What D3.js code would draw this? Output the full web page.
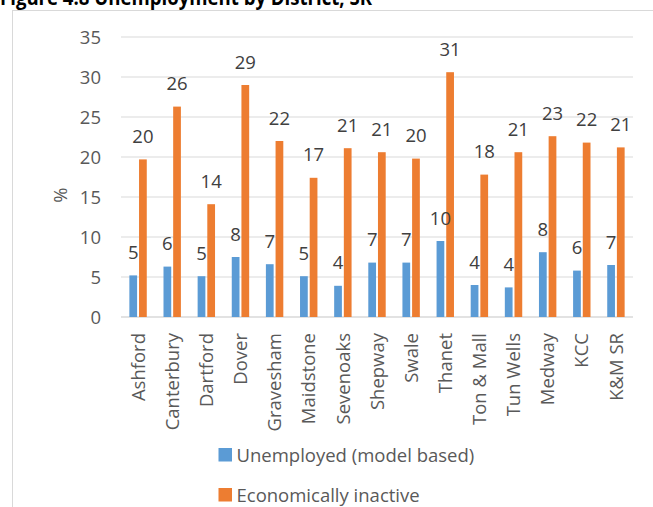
<!DOCTYPE html>
<html>
<head>
<meta charset="utf-8">
<script src="https://cdn.jsdelivr.net/npm/d3@7"></script>
<style>
  html, body { margin: 0; padding: 0; background: #fff; }
  svg { display: block; }
  text { font-family: "Open Sans", "DejaVu Sans", sans-serif; }
</style>
</head>
<body>
<svg id="chart" width="653" height="507"></svg>
<script>
// Unemployment and economic inactivity rates by district (%)
const districts = ["Ashford", "Canterbury", "Dartford", "Dover", "Gravesham", "Maidstone",
  "Sevenoaks", "Shepway", "Swale", "Thanet", "Ton & Mall", "Tun Wells", "Medway", "KCC", "K&M SR"];
const unemployed = [5.2, 6.3, 5.1, 7.5, 6.6, 5.1, 3.9, 6.8, 6.8, 9.5, 4.0, 3.7, 8.1, 5.8, 6.5];
const inactive = [19.7, 26.3, 14.1, 29.0, 22.0, 17.4, 21.1, 20.6, 19.8, 30.6, 17.8, 20.6, 22.6, 21.8, 21.2];
const seriesNames = ["Unemployed (model based)", "Economically inactive"];
const seriesColors = ["#5B9BD5", "#ED7D31"];
const yTicks = [0, 5, 10, 15, 20, 25, 30, 35];
const titleText = "Figure 4.8 Unemployment by District, SR";

const svg = d3.select("#chart");
const fontSize = 18.5;

// Chart area frame
svg.append("rect")
  .attr("x", 12.5).attr("y", 10.5)
  .attr("width", 700).attr("height", 600)
  .attr("fill", "none").attr("stroke", "#d9d9d9").attr("stroke-width", 1);

// Heading, sitting above the frame
svg.append("text")
  .attr("x", 0).attr("y", 5)
  .attr("font-weight", "bold")
  .attr("font-size", 21)
  .attr("fill", "#000")
  .attr("textLength", 372)
  .attr("lengthAdjust", "spacingAndGlyphs")
  .text(titleText);

const plot = { left: 121, right: 633, top: 37, bottom: 317 };

const y = d3.scaleLinear().domain([0, 35]).range([plot.bottom, plot.top]);
const x0 = d3.scaleBand().domain(districts).range([plot.left, plot.right])
  .paddingInner(0.49).paddingOuter(0.245);
const x1 = d3.scaleBand().domain([0, 1]).range([0, x0.bandwidth()]).paddingInner(0.2);

// Gridlines
svg.append("g").selectAll("line")
  .data(yTicks)
  .join("line")
  .attr("x1", plot.left).attr("x2", plot.right)
  .attr("y1", d => y(d)).attr("y2", d => y(d))
  .attr("stroke", "#d9d9d9")
  .attr("stroke-width", d => d === 0 ? 1.5 : 1);

// Y axis tick labels
svg.append("g").selectAll("text")
  .data(yTicks)
  .join("text")
  .attr("x", 101).attr("y", d => y(d))
  .attr("dy", "0.36em")
  .attr("text-anchor", "end")
  .attr("font-size", fontSize)
  .attr("fill", "#595959")
  .text(d => d);

// Y axis title
svg.append("text")
  .attr("transform", `translate(60,${(plot.top + plot.bottom) / 2 + 18}) rotate(-90)`)
  .attr("text-anchor", "middle")
  .attr("dy", "0.36em")
  .attr("font-size", fontSize)
  .attr("fill", "#595959")
  .text("%");

// Bars and value labels
const rows = districts.map((d, i) => ({ district: d, values: [unemployed[i], inactive[i]] }));
const groups = svg.append("g").selectAll("g")
  .data(rows)
  .join("g")
  .attr("transform", d => `translate(${x0(d.district)},0)`);

groups.selectAll("rect")
  .data(d => d.values.map((v, k) => ({ v, k })))
  .join("rect")
  .attr("x", d => x1(d.k))
  .attr("width", x1.bandwidth())
  .attr("y", d => y(d.v))
  .attr("height", d => y(0) - y(d.v))
  .attr("fill", d => seriesColors[d.k]);

groups.selectAll("text")
  .data(d => d.values.map((v, k) => ({ v, k })))
  .join("text")
  .attr("x", d => x1(d.k) + x1.bandwidth() / 2)
  .attr("y", d => y(d.v) - 16.5)
  .attr("text-anchor", "middle")
  .attr("font-size", fontSize)
  .attr("fill", "#404040")
  .text(d => Math.round(d.v));

// Category labels, rotated
svg.append("g").selectAll("text")
  .data(districts)
  .join("text")
  .attr("transform", d => `translate(${x0(d) + x0.bandwidth() / 2},333) rotate(-90)`)
  .attr("text-anchor", "end")
  .attr("dy", "0.36em")
  .attr("font-size", fontSize)
  .attr("fill", "#595959")
  .text(d => d);

// Legend
const legend = svg.append("g").selectAll("g")
  .data(seriesNames)
  .join("g")
  .attr("transform", (d, i) => `translate(218.5,${448 + i * 40})`);

legend.append("rect")
  .attr("width", 13.5).attr("height", 13.5)
  .attr("fill", (d, i) => seriesColors[i]);

legend.append("text")
  .attr("x", 18).attr("y", 7)
  .attr("dy", "0.36em")
  .attr("font-size", fontSize)
  .attr("fill", "#595959")
  .text(d => d);
</script>
</body>
</html>
